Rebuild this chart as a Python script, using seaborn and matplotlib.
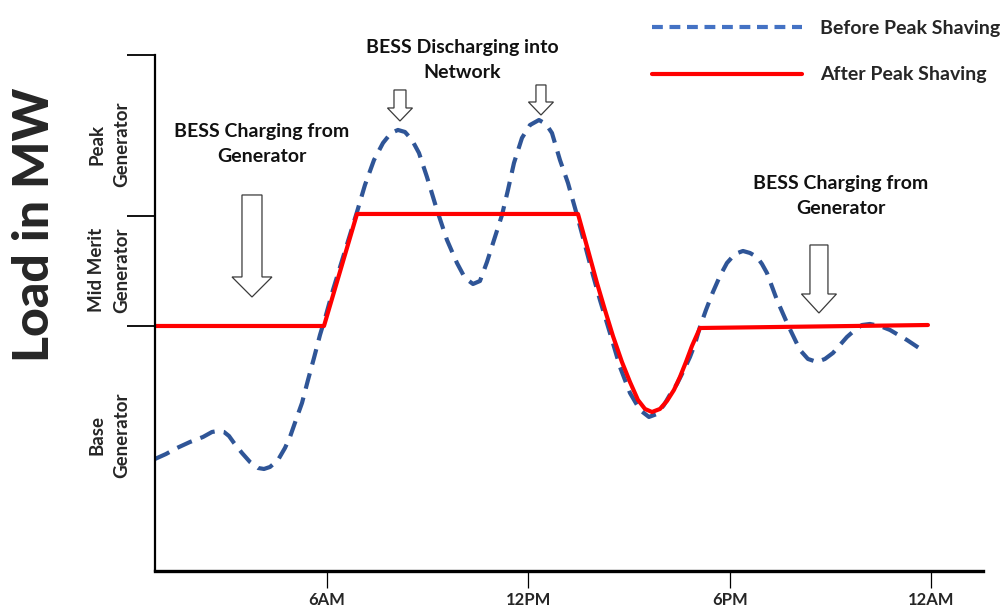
import pandas as pd
import matplotlib
matplotlib.use("Agg")
import matplotlib.pyplot as plt
from matplotlib.lines import Line2D
import seaborn as sns

# load curve (hours, arbitrary MW scale 0-100)
before_hour = [0.879, 1.206, 1.534, 1.921, 2.309, 2.577, 2.755, 2.934, 3.083, 3.232,
               3.470, 3.709, 3.947, 4.126, 4.305, 4.543, 4.751, 4.900, 5.109, 5.258,
               5.437, 5.615, 5.794, 5.973, 6.181, 6.539, 6.896, 7.134, 7.403, 7.671,
               7.909, 8.117, 8.326, 8.535, 8.743, 8.981, 9.279, 9.577, 9.875, 10.113,
               10.352, 10.560, 10.769, 11.007, 11.216, 11.394, 11.573, 11.811, 12.050, 12.318,
               12.526, 12.705, 12.943, 13.182, 13.450, 13.688, 13.926, 14.135, 14.433, 14.731,
               15.029, 15.327, 15.594, 15.833, 16.042, 16.250, 16.429, 16.637, 16.816, 16.965,
               17.114, 17.293, 17.501, 17.710, 17.918, 18.156, 18.395, 18.603, 18.812, 18.961,
               19.110, 19.408, 19.735, 20.093, 20.331, 20.599, 20.837, 21.076, 21.284, 21.493,
               21.731, 21.940, 22.178, 22.476, 22.774, 23.280, 23.548, 23.817]
before_load = [21.71, 22.67, 23.84, 25.00, 25.97, 26.94, 27.13, 26.94, 26.16, 24.81,
               22.87, 21.12, 19.96, 19.77, 20.16, 21.51, 23.84, 25.97, 29.85, 32.56,
               37.02, 41.28, 45.74, 49.61, 54.46, 62.02, 69.57, 74.81, 79.65, 82.95,
               84.88, 85.47, 85.08, 83.53, 81.01, 76.36, 69.96, 64.15, 59.69, 56.78,
               55.62, 56.20, 59.88, 64.73, 68.99, 73.84, 79.07, 83.92, 86.43, 87.40,
               86.63, 84.88, 79.65, 75.19, 68.99, 63.18, 57.36, 52.52, 46.12, 39.54,
               34.50, 31.20, 29.85, 30.43, 32.17, 34.50, 36.24, 38.95, 41.47, 43.99,
               47.29, 50.58, 54.07, 57.17, 59.69, 61.43, 62.02, 61.63, 60.85, 59.50,
               57.75, 52.52, 47.67, 42.83, 41.09, 40.50, 41.09, 42.25, 43.80, 45.35,
               46.71, 47.67, 47.87, 47.48, 46.71, 44.77, 43.61, 42.44]

after_hour = [0.879, 5.913, 6.896, 13.480, 13.777, 14.046, 14.284, 14.522, 14.790, 15.029,
              15.267, 15.476, 15.684, 15.922, 16.131, 16.339, 16.518, 16.697, 16.876, 17.114,
              23.906]
after_load = [47.48, 47.48, 69.19, 69.19, 62.21, 55.81, 50.58, 45.54, 40.50, 36.63,
              33.14, 31.40, 30.81, 31.40, 32.95, 35.08, 37.60, 40.50, 43.61, 47.09,
              47.67]

tick_hours = [6, 12, 18, 24]
tick_labels = ["6AM", "12PM", "6PM", "12AM"]

band_edges = [47.48, 68.70, 100]
band_centers = [26.36, 58.33, 82.75]
band_labels = ["Base\nGenerator", "Mid Merit\nGenerator", "Peak\nGenerator"]

# hollow arrows: x, top, tip
arrow_x = [3.768, 8.177, 12.377, 20.659]
arrow_top = [72.87, 93.22, 94.19, 63.18]
arrow_tip = [53.10, 87.21, 88.37, 50.00]

notes = ["BESS Charging from\nGenerator", "BESS Discharging into\nNetwork",
         "BESS Charging from\nGenerator"]
note_x = [4.066, 10.024, 21.314]
note_y = [82.75, 99.03, 72.68]

before = pd.DataFrame({"hour": before_hour, "load": before_load})
after = pd.DataFrame({"hour": after_hour, "load": after_load})

sns.set_theme(style="white")
plt.rcParams["font.family"] = ["Lato", "DejaVu Sans"]

fig = plt.figure(figsize=(10.02, 6.11), dpi=100)
ax = fig.add_axes([0.1547, 0.0655, 0.8263, 0.8445])

sns.lineplot(data=before, x="hour", y="load", ax=ax, color="#2F5597", linewidth=3,
             linestyle=(0, (3.8, 2.2)), estimator=None, sort=False)
sns.lineplot(data=after, x="hour", y="load", ax=ax, color="#FF0000", linewidth=3,
             estimator=None, sort=False)

# arrows
shaft_w = [0.596, 0.357, 0.298, 0.536]
head_w = [1.19, 0.745, 0.745, 1.043]
head_l = [3.88, 2.52, 2.52, 3.68]
for i in range(len(arrow_x)):
    ax.arrow(arrow_x[i], arrow_top[i], 0, arrow_tip[i] - arrow_top[i], width=shaft_w[i],
             head_width=head_w[i], head_length=head_l[i], length_includes_head=True,
             facecolor="white", edgecolor="#3a3a3a", linewidth=0.9, zorder=5, clip_on=False)

for txt, x, y in zip(notes, note_x, note_y):
    ax.text(x, y, txt, ha="center", va="center", fontsize=14, fontweight="bold",
            color="#111111", linespacing=1.55, clip_on=False)

ax.set_xlim(0.879, 25.545)
ax.set_ylim(0, 100)

for side in ["top", "right"]:
    ax.spines[side].set_visible(False)
ax.spines["left"].set_linewidth(1.6)
ax.spines["bottom"].set_linewidth(2.4)
ax.spines["left"].set_color("black")
ax.spines["bottom"].set_color("black")

ax.set_xticks(tick_hours)
ax.set_xticklabels(tick_labels, fontsize=12, fontweight="bold")
ax.tick_params(axis="x", direction="out", length=12, width=0.9, color="black", pad=3,
               bottom=True)

ax.set_yticks(band_edges)
ax.set_yticklabels([])
ax.tick_params(axis="y", which="major", direction="out", length=20, width=1.3, color="black",
               left=True)
ax.set_yticks(band_centers, minor=True)
ax.set_yticklabels(band_labels, minor=True, rotation=90, fontsize=13.5, fontweight="bold",
                   ma="center", va="center", linespacing=1.55)
ax.tick_params(axis="y", which="minor", length=0, pad=18, left=True)

ax.set_xlabel("")
ax.set_ylabel("Load in MW", fontsize=36, fontweight="black", va="center")
ax.yaxis.set_label_coords(-0.146, 0.6705)

handles = [Line2D([], [], color="#4472C4", linewidth=3, linestyle=(0, (2.6, 1.6))),
           Line2D([], [], color="#FF0000", linewidth=3)]
fig.legend(handles, ["Before Peak Shaving", "After Peak Shaving"], loc="upper left",
           bbox_to_anchor=(0.6507, 0.967), frameon=False, handlelength=7.7,
           handletextpad=0.93, labelspacing=1.5, borderpad=0, borderaxespad=0,
           prop={"size": 14, "weight": "bold"})

fig.savefig("out.png", dpi=100)
